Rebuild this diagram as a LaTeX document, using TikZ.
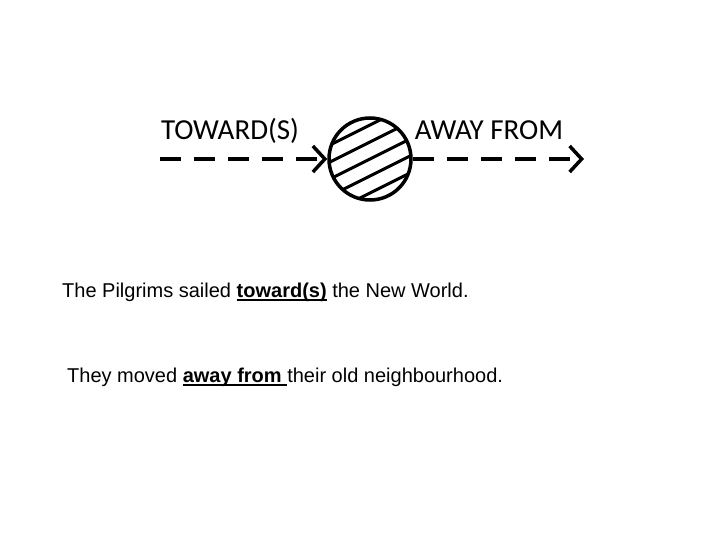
\documentclass[tikz,border=0pt]{standalone}
\usepackage{fontspec}
\setmainfont{Liberation Sans}
\newfontfamily\labelfont{Carlito}
\usetikzlibrary{arrows.meta,positioning}
\newcommand\thickunder[1]{\setbox0\hbox{#1}\rlap{\rule[-3.5pt]{\wd0}{1.8pt}}\box0\relax}
\tikzset{
    dir/.style={font=\labelfont\fontsize{29}{32}\selectfont, inner sep=0pt, anchor=base},
    sentence/.style={font=\fontsize{20}{24}\selectfont, inner sep=0pt, anchor=base west},
    dasharrow/.style={line width=3.5pt, dash pattern=on 21pt off 13pt,
        -{Straight Barb[length=12pt,width=26pt,line width=3.5pt]}},
}
\begin{document}
\begin{tikzpicture}[x=1pt, y=-1pt]
    \useasboundingbox (0, 0) rectangle (720, 540);
    %the ball with hatching
    \node[circle, draw, line width=3.5pt, minimum size=82pt, inner sep=0pt] (ball) at (370, 159) {};
    \begin{scope}
        \clip (370, 159) circle (41pt);
        \foreach \k in {-3,...,3}
            \draw[line width=3pt] (310, 159+\k*17+30) -- (430, 159+\k*17-30);
    \end{scope}
    %arrows
    \coordinate (in) at (160, 159);
    \coordinate (out) at (584, 159);
    \draw[dasharrow] (in) -- (ball.west);
    \draw[dasharrow] (ball.east) -- (out);
    %labels
    \node[dir] (toward) at (230, 140) {TOWARD(S)};
    \node[dir] (away) at (489, 140) {AWAY FROM};
    %sentences
    \node[sentence] (s1) at (62, 297) {The Pilgrims sailed \thickunder{\textbf{toward(s)}} the New World.};
    \node[sentence] (s2) at (67, 382) {They moved \thickunder{\textbf{away from}\ }their old neighbourhood.};
\end{tikzpicture}
\end{document}
